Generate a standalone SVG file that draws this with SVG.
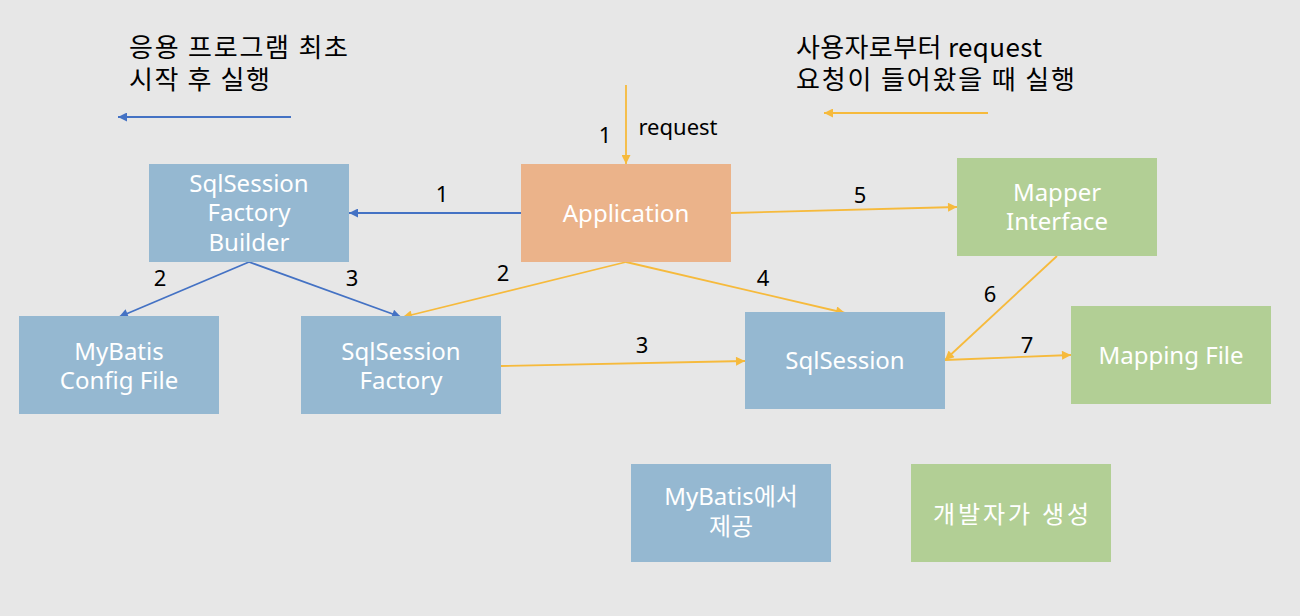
<svg xmlns="http://www.w3.org/2000/svg" width="1300" height="616" viewBox="0 0 1300 616">
<defs>
<style>
.bg{fill:#e7e7e7}
.blue{fill:#95b8d1}
.orange{fill:#ebb38a}
.green{fill:#b2cf95}
.nt{font-family:"Noto Sans","Noto Sans CJK KR",sans-serif;font-size:24px;fill:#ffffff;text-anchor:middle}
.lbl{font-family:"Noto Sans","Noto Sans CJK KR",sans-serif;font-size:22px;fill:#000000;text-anchor:middle}
.kt{font-family:"Noto Sans CJK KR","Noto Sans",sans-serif;font-size:26px;fill:#000000}
.lb{stroke:#4472c4;stroke-width:1.8;fill:none}
.ly{stroke:#f6ba3c;stroke-width:1.8;fill:none}
</style>
<marker id="ab" viewBox="0 0 10 10" refX="10" refY="5" markerWidth="11" markerHeight="9" markerUnits="userSpaceOnUse" orient="auto"><path d="M0,0 L10,5 L0,10 z" fill="#4472c4"/></marker>
<marker id="ay" viewBox="0 0 10 10" refX="10" refY="5" markerWidth="11" markerHeight="9" markerUnits="userSpaceOnUse" orient="auto"><path d="M0,0 L10,5 L0,10 z" fill="#f6ba3c"/></marker>
</defs>
<rect class="bg" x="0" y="0" width="1300" height="616"/>

<g id="legend-text">
<text class="kt" x="129" y="57" textLength="219" lengthAdjust="spacing">응용 프로그램 최초</text>
<text class="kt" x="129" y="89" textLength="141" lengthAdjust="spacing">시작 후 실행</text>
<text class="kt" x="796" y="57" textLength="246" lengthAdjust="spacing">사용자로부터 request</text>
<text class="kt" x="796" y="89" textLength="279" lengthAdjust="spacing">요청이 들어왔을 때 실행</text>
</g>

<g id="connectors">
<line class="lb" x1="291" y1="117" x2="118" y2="117" marker-end="url(#ab)"/>
<line class="ly" x1="988" y1="113" x2="824" y2="113" marker-end="url(#ay)"/>
<line class="ly" x1="626" y1="85" x2="626" y2="164" marker-end="url(#ay)"/>
<line class="lb" x1="521" y1="213" x2="349" y2="213" marker-end="url(#ab)"/>
<line class="lb" x1="249" y1="262" x2="119" y2="317" marker-end="url(#ab)"/>
<line class="lb" x1="249" y1="262" x2="401" y2="317" marker-end="url(#ab)"/>
<line class="ly" x1="626" y1="262" x2="403" y2="317" marker-end="url(#ay)"/>
<line class="ly" x1="626" y1="262" x2="845" y2="313" marker-end="url(#ay)"/>
<line class="ly" x1="731" y1="213" x2="957" y2="207" marker-end="url(#ay)"/>
<line class="ly" x1="1057" y1="256" x2="945" y2="360" marker-end="url(#ay)"/>
<line class="ly" x1="945" y1="360" x2="1071" y2="355" marker-end="url(#ay)"/>
<line class="ly" x1="501" y1="366" x2="745" y2="361" marker-end="url(#ay)"/>
<text class="lbl" x="605" y="143">1</text>
<text class="lbl" x="678" y="135">request</text>
<text class="lbl" x="442" y="202">1</text>
<text class="lbl" x="160" y="286">2</text>
<text class="lbl" x="352" y="286">3</text>
<text class="lbl" x="503" y="281">2</text>
<text class="lbl" x="763" y="286">4</text>
<text class="lbl" x="860" y="203">5</text>
<text class="lbl" x="990" y="302">6</text>
<text class="lbl" x="1027" y="353">7</text>
<text class="lbl" x="642" y="353">3</text>
</g>

<g id="builder">
<rect class="blue" x="149" y="164" width="200" height="98"/>
<text class="nt" x="249" y="192">SqlSession</text>
<text class="nt" x="249" y="221">Factory</text>
<text class="nt" x="249" y="251">Builder</text>
</g>
<g id="config">
<rect class="blue" x="19" y="316" width="200" height="98"/>
<text class="nt" x="119" y="360">MyBatis</text>
<text class="nt" x="119" y="389">Config File</text>
</g>
<g id="factory">
<rect class="blue" x="301" y="316" width="200" height="98"/>
<text class="nt" x="401" y="360">SqlSession</text>
<text class="nt" x="401" y="389">Factory</text>
</g>
<g id="application">
<rect class="orange" x="521" y="164" width="210" height="98"/>
<text class="nt" x="626" y="222">Application</text>
</g>
<g id="mapper">
<rect class="green" x="957" y="158" width="200" height="98"/>
<text class="nt" x="1057" y="201">Mapper</text>
<text class="nt" x="1057" y="230">Interface</text>
</g>
<g id="sqlsession">
<rect class="blue" x="745" y="312" width="200" height="97"/>
<text class="nt" x="845" y="369">SqlSession</text>
</g>
<g id="mapping">
<rect class="green" x="1071" y="306" width="200" height="98"/>
<text class="nt" x="1171" y="364">Mapping File</text>
</g>
<g id="legend-mybatis">
<rect class="blue" x="631" y="464" width="200" height="98"/>
<text class="nt" x="731" y="505">MyBatis에서</text>
<text class="nt" x="731" y="535">제공</text>
</g>
<g id="legend-dev">
<rect class="green" x="911" y="464" width="200" height="98"/>
<text class="nt" x="1011" y="523" textLength="156" lengthAdjust="spacing">개발자가 생성</text>
</g>
</svg>
